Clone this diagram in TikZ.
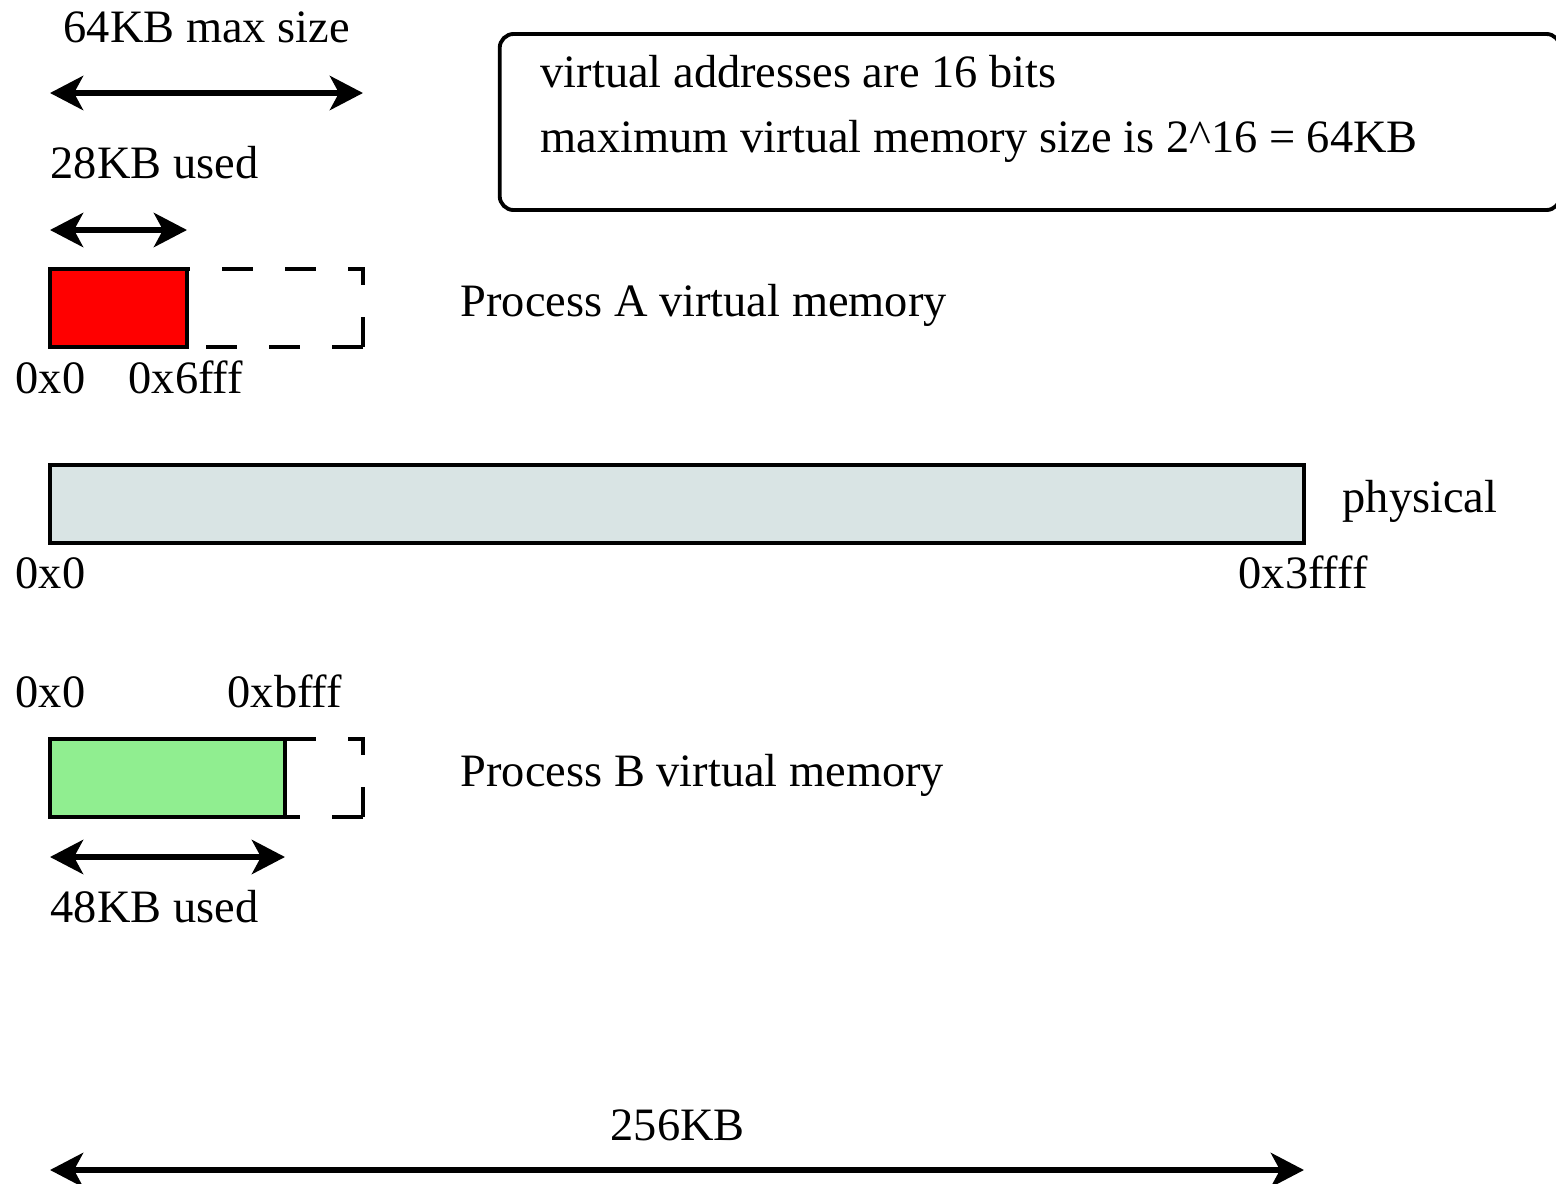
\documentclass[tikz,border=0pt]{standalone}
\usepackage{fontspec}
\setmainfont{Liberation Serif}
\usetikzlibrary{arrows.meta}
\definecolor{physfill}{RGB}{217,228,228}
\definecolor{bfill}{RGB}{144,238,144}
\tikzset{>={Stealth[length=3.3mm,width=3.4mm,inset=0.9mm]}}
\tikzset{
  span/.style={<->,line width=1.7pt},
  mem/.style={draw,line width=1.1pt},
  free/.style={line width=1.1pt,dash pattern=on 0.31cm off 0.32cm},
  note/.style={draw,rounded corners=4pt,line width=1.1pt,minimum width=10.6cm,minimum height=1.76cm,inner sep=0pt},
  lbl/.style={anchor=base west,inner sep=0pt,font=\fontsize{13.2}{16}\selectfont},
}

\begin{document}
\begin{tikzpicture}[x=0.01cm,y=-0.01cm]
  \useasboundingbox (0,0) rectangle (1556,1184);

  \coordinate (maxL) at (50,93);
  \coordinate (maxR) at (363,93);
  \coordinate (useAL) at (50,230);
  \coordinate (useAR) at (187,230);

  \coordinate (a0) at (50,269);
  \coordinate (a1) at (187,347);
  \coordinate (a2) at (187,269);
  \coordinate (a3) at (363,269);
  \coordinate (a4) at (363,347);

  \coordinate (p0) at (50,465);
  \coordinate (p1) at (1304,543);

  \coordinate (b0) at (50,739);
  \coordinate (b1) at (285,817);
  \coordinate (b2) at (285,739);
  \coordinate (b3) at (363,739);
  \coordinate (b4) at (363,817);
  \coordinate (useBL) at (50,857);
  \coordinate (useBR) at (285,857);

  \coordinate (physL) at (50,1170);
  \coordinate (physR) at (1304,1170);

  \node[note] (info) at (1030,122) {};
  \node[lbl] (bits) at (540,87) {virtual addresses are 16 bits};
  \node[lbl] (maxsize) at (540,152) {maximum virtual memory size is 2\textasciicircum16 = 64KB};

  \draw[span] (maxL) -- (maxR);
  \draw[span] (useAL) -- (useAR);
  \draw[free,dash phase=0.28cm] (a2) -- (a3) -- (a4);
  \draw[free] (a4) -- (a1);
  \draw[mem,fill=red] (a0) rectangle (a1);

  \draw[mem,fill=physfill] (p0) rectangle (p1);

  \draw[free] (b2) -- (b3) -- (b4);
  \draw[free] (b4) -- (b1);
  \draw[mem,fill=bfill] (b0) rectangle (b1);
  \draw[span] (useBL) -- (useBR);

  \draw[span] (physL) -- (physR);

  \node[lbl] (maxlbl) at (63,42) {64KB max size};
  \node[lbl] (usedA) at (50,178) {28KB used};
  \node[lbl] (procA) at (460,316) {Process A virtual memory};
  \node[lbl] (a0lbl) at (15,393) {0x0};
  \node[lbl] (a1lbl) at (128,393) {0x6fff};

  \node[lbl] (phys) at (1342,512) {physical};
  \node[lbl] (p0lbl) at (15,588) {0x0};
  \node[lbl] (p1lbl) at (1238,588) {0x3ffff};

  \node[lbl] (b0lbl) at (15,707) {0x0};
  \node[lbl] (b1lbl) at (227,707) {0xbfff};
  \node[lbl] (procB) at (460,786) {Process B virtual memory};
  \node[lbl] (usedB) at (50,922) {48KB used};

  \node[lbl] (total) at (610,1140) {256KB};
\end{tikzpicture}
\end{document}
